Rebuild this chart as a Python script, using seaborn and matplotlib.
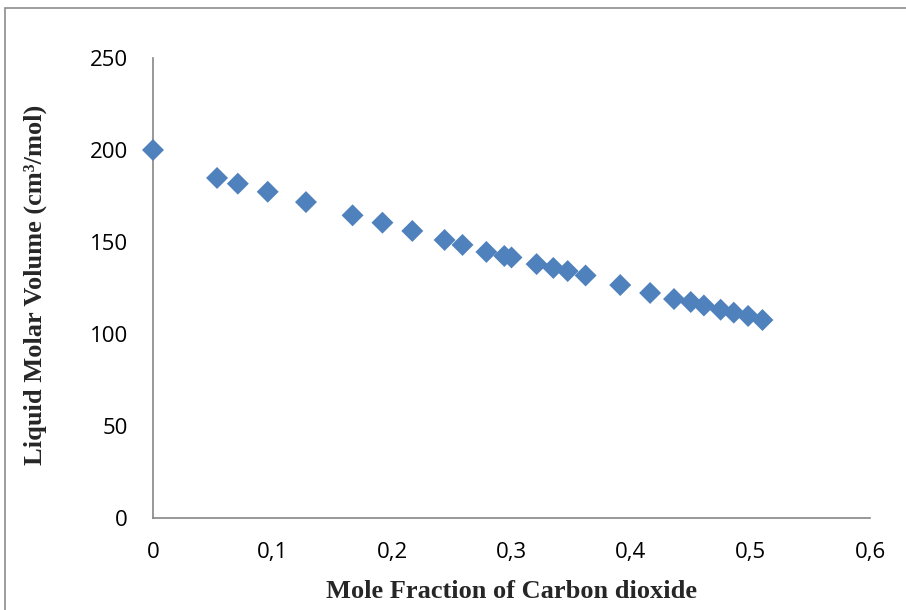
import matplotlib
matplotlib.use("Agg")
import matplotlib.pyplot as plt
import seaborn as sns
import pandas as pd
from matplotlib.patches import Rectangle

# Data
mole_fraction_co2 = [0.0, 0.0536, 0.071, 0.096, 0.128, 0.167, 0.192, 0.217, 0.244,
                     0.259, 0.279, 0.294, 0.300, 0.321, 0.335, 0.347, 0.362, 0.391,
                     0.416, 0.436, 0.450, 0.461, 0.475, 0.486, 0.498, 0.510]
liquid_molar_volume = [200.0, 184.8, 181.7, 177.3, 171.7, 164.5, 160.5, 156.0, 151.1,
                       148.4, 144.6, 142.4, 141.6, 138.0, 135.9, 134.2, 131.8, 126.6,
                       122.3, 119.0, 117.4, 115.5, 113.2, 111.6, 109.8, 107.6]
x_ticks = [0, 0.1, 0.2, 0.3, 0.4, 0.5, 0.6]
x_tick_labels = ["0", "0,1", "0,2", "0,3", "0,4", "0,5", "0,6"]
y_ticks = [0, 50, 100, 150, 200, 250]
y_tick_labels = ["0", "50", "100", "150", "200", "250"]

df = pd.DataFrame({"x": mole_fraction_co2, "y": liquid_molar_volume})

sns.set_style("white")
W, H = 906, 610
fig = plt.figure(figsize=(W / 100, H / 100), dpi=100)
ax = fig.add_axes([153 / W, (H - 518) / H, (870 - 153) / W, (518 - 58) / H])

sns.scatterplot(data=df, x="x", y="y", marker="D", s=125, color="#4F81BD",
                edgecolor="none", ax=ax, clip_on=False, zorder=3)

ax.set_xlim(0, 0.6)
ax.set_ylim(0, 250)
ax.set_xticks(x_ticks)
ax.set_xticklabels(x_tick_labels)
ax.set_yticks(y_ticks)
ax.set_yticklabels(y_tick_labels)

axis_color = "#868686"
for side in ["top", "right"]:
    ax.spines[side].set_visible(False)
for side in ["left", "bottom"]:
    ax.spines[side].set_color(axis_color)
    ax.spines[side].set_linewidth(1.2)

ax.tick_params(axis="both", direction="out", length=6, width=1.2, color=axis_color,
               labelcolor="black", pad=8)
for lbl in ax.get_xticklabels() + ax.get_yticklabels():
    lbl.set_fontfamily(["Open Sans", "DejaVu Sans"])
    lbl.set_fontsize(16)
ax.tick_params(axis="x", pad=11)
ax.tick_params(axis="y", pad=12)

label_font = dict(family=["Liberation Serif", "DejaVu Serif"], weight="bold", size=19)
ax.set_xlabel("Mole Fraction of Carbon dioxide", **label_font)
ax.set_ylabel("Liquid Molar Volume (cm³/mol)", **label_font)
ax.xaxis.label.set_va("center")
ax.xaxis.set_label_coords(0.5, (518 - 591) / 460)
ax.yaxis.label.set_va("center")
ax.yaxis.set_label_coords((35 - 153) / 717, 0.5 + (288 - 285) / 460)

# outer chart border (partially cropped in reference)
border = Rectangle((5 / W, -0.5), 2.0, 1.5 - 8 / H, transform=fig.transFigure,
                   fill=False, edgecolor="#8c8c8c", linewidth=1.2)
fig.add_artist(border)

fig.savefig("out.png", dpi=100)
